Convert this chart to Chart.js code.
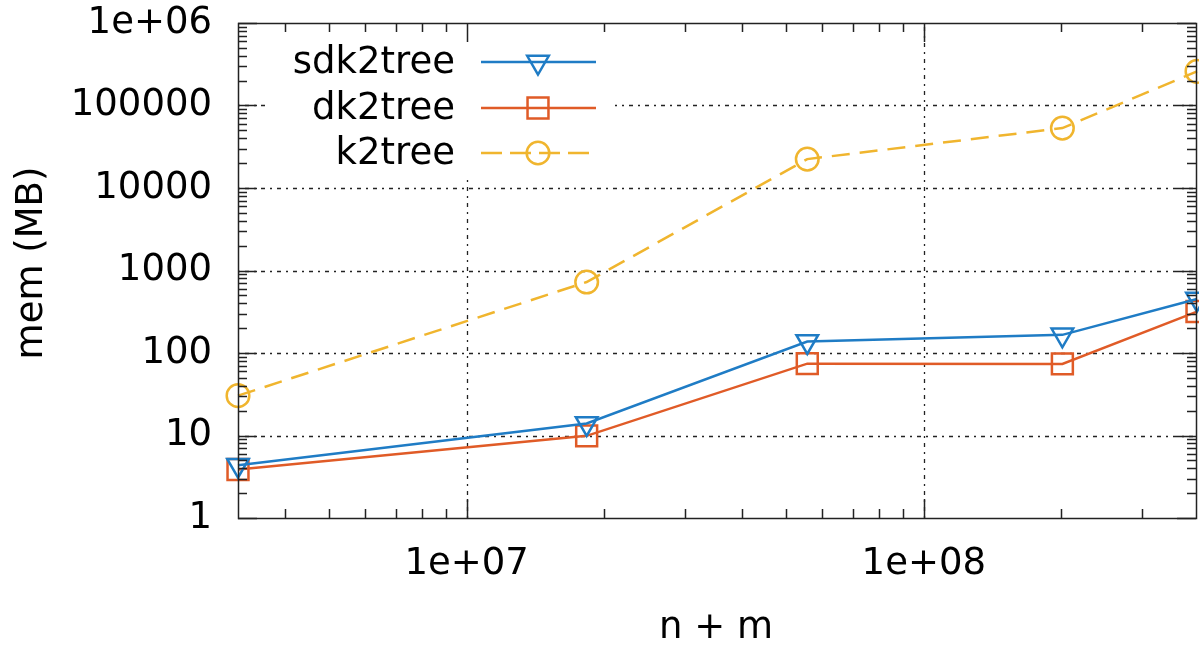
<!DOCTYPE html>
<html>
<head>
<meta charset="utf-8">
<script src="https://cdn.jsdelivr.net/npm/chart.js@4/dist/chart.umd.min.js"></script>
<style>
  html, body { margin: 0; padding: 0; background: #ffffff; overflow: hidden; }
  #c { display: block; }
</style>
</head>
<body>
<canvas id="c" width="1199" height="650"></canvas>
<script>
// Graph size (n + m) and memory use in MB for each structure
const sizes    = [3.16e6, 1.83e7, 5.56e7, 2.01e8, 3.96e8];
const sdk2tree = [4.37, 14.0, 138, 166, 451];
const dk2tree  = [3.87, 9.9, 74.3, 73.8, 318];
const k2tree   = [30.4, 725, 22400, 53200, 259000];
const seriesNames = ['sdk2tree', 'dk2tree', 'k2tree'];
const xTickValues = [1e7, 1e8];
const yTickValues = [1, 10, 100, 1000, 10000, 100000, 1000000];
const xTitle = 'n + m';
const yTitle = 'mem (MB)';

const FONT = '"DejaVu Sans", "Liberation Sans", sans-serif';
const FS = 37;
const COLORS = ['#1f7cc5', '#e05b27', '#f0b52e'];
const STYLES = [
  { pointStyle: 'triangle', rotation: 180, radius: 12.5, dash: [] },
  { pointStyle: 'rect', rotation: 0, radius: 14.8, dash: [] },
  { pointStyle: 'circle', rotation: 0, radius: 11.3, dash: [18, 10] }
];
const PLOT_RIGHT_GAP = 2;

function toPoints(ys) { return sizes.map((x, i) => ({ x: x, y: ys[i] })); }

const datasets = [sdk2tree, dk2tree, k2tree].map((ys, i) => ({
  label: seriesNames[i],
  data: toPoints(ys),
  borderColor: COLORS[i],
  backgroundColor: 'rgba(0,0,0,0)',
  borderWidth: 2.5,
  borderDash: STYLES[i].dash,
  pointStyle: STYLES[i].pointStyle,
  pointRotation: STYLES[i].rotation,
  pointRadius: STYLES[i].radius,
  pointHoverRadius: STYLES[i].radius,
  pointBorderWidth: 2.5,
  pointBorderColor: COLORS[i],
  pointBackgroundColor: 'rgba(0,0,0,0)',
  tension: 0,
  clip: false
}));

// marker outlines used in the key (same geometry as Chart.js point styles)
function drawMarker(ctx, style, r, rot, x, y) {
  ctx.save();
  ctx.translate(x, y);
  ctx.rotate(rot * Math.PI / 180);
  ctx.beginPath();
  if (style === 'circle') {
    ctx.arc(0, 0, r, 0, Math.PI * 2);
  } else if (style === 'rect') {
    const s = Math.SQRT1_2 * r;
    ctx.rect(-s, -s, 2 * s, 2 * s);
  } else if (style === 'triangle') {
    for (let k = 0; k < 3; k++) {
      const a = k * 2 * Math.PI / 3;
      const px = Math.sin(a) * r, py = -Math.cos(a) * r;
      if (k === 0) ctx.moveTo(px, py); else ctx.lineTo(px, py);
    }
    ctx.closePath();
  }
  ctx.stroke();
  ctx.restore();
}

function minorValues(min, max) {
  const out = [];
  for (let e = Math.floor(Math.log10(min)); e <= Math.ceil(Math.log10(max)); e++) {
    for (let m = 2; m <= 9; m++) {
      const v = m * Math.pow(10, e);
      if (v > min && v < max) out.push(v);
    }
  }
  return out;
}

const frame = {
  id: 'frame',
  // let the plot area run to the right edge of the canvas
  afterLayout(chart) {
    const right = chart.width - PLOT_RIGHT_GAP;
    const a = chart.chartArea;
    a.right = right;
    a.width = right - a.left;
    const xs = chart.scales.x;
    xs.right = right;
    xs.width = right - xs.left;
    xs.configure();
  },
  beforeDatasetsDraw(chart) {
    const { ctx, chartArea: a, scales } = chart;
    ctx.save();
    ctx.strokeStyle = '#222';
    ctx.lineWidth = 1.3;
    ctx.setLineDash([2, 5, 4, 5]);
    xTickValues.forEach(v => {
      const px = Math.round(scales.x.getPixelForValue(v)) + 0.5;
      ctx.beginPath(); ctx.moveTo(px, a.bottom); ctx.lineTo(px, a.top); ctx.stroke();
    });
    yTickValues.slice(1, -1).forEach(v => {
      const py = Math.round(scales.y.getPixelForValue(v)) + 0.5;
      ctx.beginPath(); ctx.moveTo(a.left, py); ctx.lineTo(a.right, py); ctx.stroke();
    });
    ctx.restore();
  },
  afterDatasetsDraw(chart) {
    const { ctx } = chart;
    // key with opaque background
    ctx.save();
    ctx.fillStyle = '#ffffff';
    ctx.fillRect(265, 25, 350, 153);
    const rows = [62, 108, 153];
    ctx.font = FS + 'px ' + FONT;
    ctx.textAlign = 'right';
    ctx.textBaseline = 'middle';
    seriesNames.forEach((name, i) => {
      const y = rows[i];
      ctx.fillStyle = '#000';
      ctx.fillText(name, 455, y + 1);
      ctx.strokeStyle = COLORS[i];
      ctx.lineWidth = 2.5;
      ctx.setLineDash(i === 2 ? [21, 8] : []);
      ctx.beginPath(); ctx.moveTo(481, y); ctx.lineTo(596, y); ctx.stroke();
      ctx.setLineDash([]);
      drawMarker(ctx, STYLES[i].pointStyle, STYLES[i].radius, STYLES[i].rotation, 538, y);
    });
    ctx.restore();
  },
  afterDraw(chart) {
    const { ctx, chartArea: a, scales } = chart;
    ctx.save();
    ctx.strokeStyle = '#222';
    ctx.lineWidth = 1.5;
    ctx.setLineDash([]);
    // border
    ctx.strokeRect(Math.round(a.left) + 0.5, Math.round(a.top) + 0.5,
                   Math.round(a.right - a.left) - 1, Math.round(a.bottom - a.top));
    const MAJ = 19, MIN = 9;
    const xs = scales.x, ys = scales.y;
    const xTicks = xTickValues.map(v => [v, MAJ]).concat(minorValues(xs.min, xs.max).map(v => [v, MIN]));
    xTicks.forEach(([v, len]) => {
      const px = Math.round(xs.getPixelForValue(v)) + 0.5;
      ctx.beginPath();
      ctx.moveTo(px, a.bottom); ctx.lineTo(px, a.bottom - len);
      ctx.moveTo(px, a.top); ctx.lineTo(px, a.top + len);
      ctx.stroke();
    });
    const yTicks = yTickValues.map(v => [v, MAJ]).concat(minorValues(ys.min, ys.max).map(v => [v, MIN]));
    yTicks.forEach(([v, len]) => {
      const py = Math.round(ys.getPixelForValue(v)) + 0.5;
      ctx.beginPath();
      ctx.moveTo(a.left, py); ctx.lineTo(a.left + len, py);
      ctx.moveTo(a.right - 1, py); ctx.lineTo(a.right - 1 - len, py);
      ctx.stroke();
    });
    // axis titles
    ctx.fillStyle = '#000';
    ctx.font = FS + 'px ' + FONT;
    ctx.textAlign = 'center';
    ctx.textBaseline = 'middle';
    ctx.fillText(xTitle, 716, 628);
    ctx.translate(32, 263);
    ctx.rotate(-Math.PI / 2);
    ctx.fillText(yTitle, 0, 0);
    ctx.restore();
  }
};

// hidden tick marks reserve the gap between the frame and the tick labels
const hiddenGrid = { display: true, drawOnChartArea: false, drawTicks: true, tickLength: 24, color: 'rgba(0,0,0,0)' };

new Chart(document.getElementById('c'), {
  type: 'line',
  data: { datasets },
  plugins: [frame],
  options: {
    responsive: false,
    maintainAspectRatio: false,
    devicePixelRatio: 1,
    animation: false,
    events: [],
    layout: { padding: { top: 23, right: PLOT_RIGHT_GAP, left: 0, bottom: 0 } },
    plugins: { legend: { display: false }, tooltip: { enabled: false } },
    scales: {
      x: {
        type: 'logarithmic',
        min: sizes[0],
        max: sizes[sizes.length - 1],
        grid: hiddenGrid,
        border: { display: false },
        afterBuildTicks(scale) { scale.ticks = xTickValues.map(v => ({ value: v })); },
        afterFit(scale) { scale.height = 132; scale.paddingLeft = 0; scale.paddingRight = 0; },
        ticks: {
          autoSkip: false,
          maxRotation: 0,
          padding: 0,
          color: '#000',
          font: { family: FONT, size: FS, lineHeight: 1.2 },
          callback(v) { return '1e+0' + Math.round(Math.log10(v)); }
        }
      },
      y: {
        type: 'logarithmic',
        min: 1,
        max: 1e6,
        grid: Object.assign({}, hiddenGrid, { tickLength: 26 }),
        border: { display: false },
        afterBuildTicks(scale) { scale.ticks = yTickValues.map(v => ({ value: v })); },
        afterFit(scale) { scale.width = 238; scale.paddingTop = 0; scale.paddingBottom = 0; },
        ticks: {
          autoSkip: false,
          padding: 0,
          color: '#000',
          font: { family: FONT, size: FS, lineHeight: 1.2 },
          callback(v) { return v >= 1e6 ? '1e+06' : String(Math.round(v)); }
        }
      }
    }
  }
});
</script>
</body>
</html>
